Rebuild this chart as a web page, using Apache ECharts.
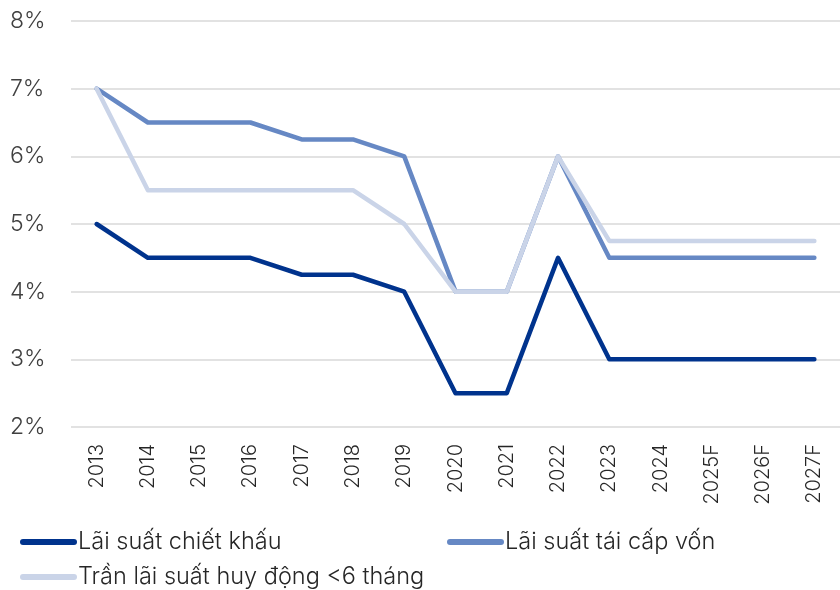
<!DOCTYPE html>
<html>
<head>
<meta charset="utf-8">
<script src="https://cdn.jsdelivr.net/npm/echarts@6/dist/echarts.min.js"></script>
<style>html,body{margin:0;padding:0;background:#fff}#c{width:840px;height:590px}</style>
</head>
<body>
<div id="c"></div>
<script>
const categories = ['2013','2014','2015','2016','2017','2018','2019','2020','2021','2022','2023','2024','2025F','2026F','2027F'];
const discountRate = [5, 4.5, 4.5, 4.5, 4.25, 4.25, 4, 2.5, 2.5, 4.5, 3, 3, 3, 3, 3];
const refinancingRate = [7, 6.5, 6.5, 6.5, 6.25, 6.25, 6, 4, 4, 6, 4.5, 4.5, 4.5, 4.5, 4.5];
const depositCap = [7, 5.5, 5.5, 5.5, 5.5, 5.5, 5, 4, 4, 6, 4.75, 4.75, 4.75, 4.75, 4.75];
const seriesNames = ['Lãi suất chiết khấu', 'Lãi suất tái cấp vốn', 'Trần lãi suất huy động <6 tháng'];
const colors = ['#00338d', '#6688c4', '#cad4e8'];

const FONT = 'Inter';
const icon = 'path://M3,0 H54 A3,3 0 0 1 54,6 H3 A3,3 0 0 1 3,0 Z';
function legend(name, left, top) {
  return {
    data: [name], left: left, top: top, padding: 0,
    icon: icon, itemWidth: 57, itemHeight: 6, itemGap: 0,
    textStyle: { fontFamily: FONT, fontSize: 23.5, fontWeight: 300, color: '#262626', lineHeight: 28, padding: [0,0,0,-4] }
  };
}
const chart = echarts.init(document.getElementById('c'));
chart.setOption({
  animation: false,
  color: colors,
  grid: { left: 71, top: 21, bottom: 163, width: 778, containLabel: false },
  legend: [
    legend(seriesNames[0], 20, 528),
    legend(seriesNames[1], 447, 528),
    legend(seriesNames[2], 20, 563)
  ],
  xAxis: {
    type: 'category', data: categories, boundaryGap: true,
    axisLine: { show: false }, axisTick: { show: false },
    axisLabel: { rotate: 90, margin: 17, fontFamily: FONT, fontSize: 20, fontWeight: 300, color: '#262626', interval: 0 }
  },
  yAxis: {
    type: 'value', min: 2, max: 8, interval: 1,
    axisLine: { show: false }, axisTick: { show: false },
    axisLabel: { formatter: '{value}%', align: 'left', margin: 61, fontFamily: FONT, fontSize: 23, fontWeight: 300, color: '#404040' },
    splitLine: { lineStyle: { color: '#d9d9d9', width: 1.5 } }
  },
  series: [
    { name: seriesNames[0], type: 'line', data: discountRate, symbol: 'none', lineStyle: { width: 4.5, color: colors[0], cap: 'round', join: 'round' } },
    { name: seriesNames[1], type: 'line', data: refinancingRate, symbol: 'none', lineStyle: { width: 4.5, color: colors[1], cap: 'round', join: 'round' } },
    { name: seriesNames[2], type: 'line', data: depositCap, symbol: 'none', lineStyle: { width: 4.5, color: colors[2], cap: 'round', join: 'round' } }
  ]
});
</script>
</body>
</html>
